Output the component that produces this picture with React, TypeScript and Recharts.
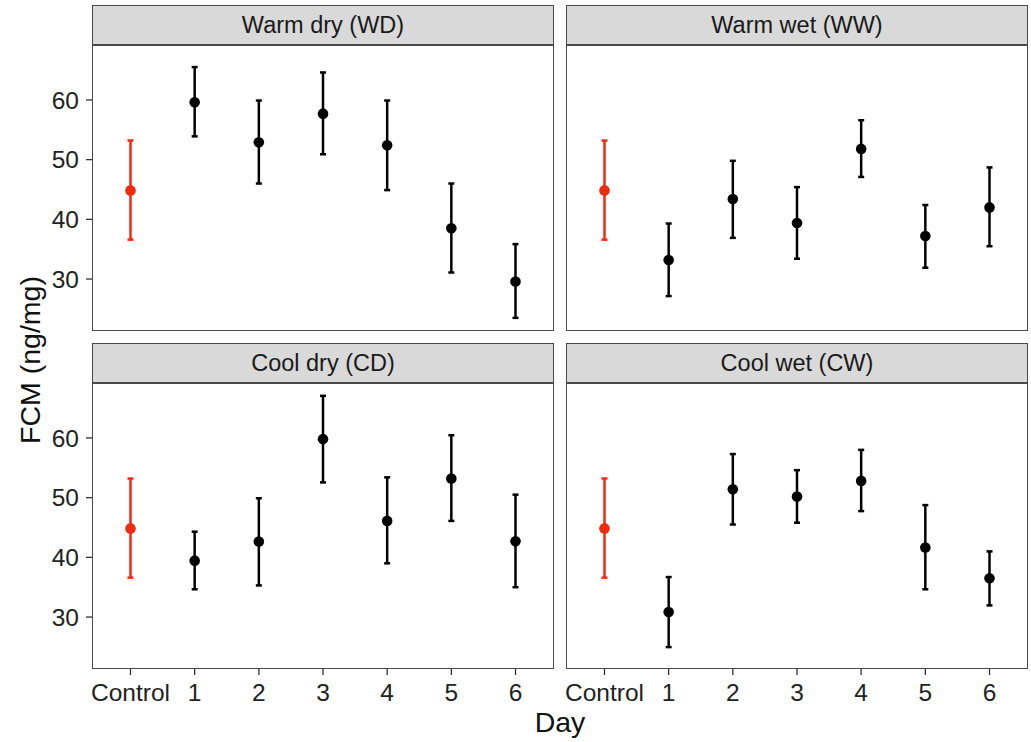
import React from 'react';
import { ScatterChart, Scatter, XAxis, YAxis, ErrorBar } from 'recharts';

const dayLabels = ['Control', '1', '2', '3', '4', '5', '6'];
const dayPositions = [0, 1, 2, 3, 4, 5, 6];
const yTicks = [30, 40, 50, 60];
const yDomain = [21.3, 69.2];

const panelTitles = ['Warm dry (WD)', 'Warm wet (WW)', 'Cool dry (CD)', 'Cool wet (CW)'];

const controlMean = 44.85;
const controlLow = 36.6;
const controlHigh = 53.2;

const wdMean = [59.6, 52.9, 57.7, 52.4, 38.5, 29.6];
const wdLow = [53.9, 46.0, 50.9, 44.9, 31.1, 23.5];
const wdHigh = [65.5, 59.9, 64.6, 59.9, 46.0, 35.85];

const wwMean = [33.2, 43.4, 39.4, 51.8, 37.2, 42.0];
const wwLow = [27.15, 36.9, 33.4, 47.1, 31.9, 35.5];
const wwHigh = [39.3, 49.8, 45.4, 56.6, 42.4, 48.7];

const cdMean = [39.45, 42.65, 59.8, 46.1, 53.2, 42.7];
const cdLow = [34.65, 35.3, 52.55, 39.0, 46.1, 35.0];
const cdHigh = [44.3, 49.9, 67.05, 53.4, 60.45, 50.5];

const cwMean = [30.85, 51.4, 50.2, 52.8, 41.65, 36.5];
const cwLow = [24.97, 45.5, 45.8, 47.75, 34.65, 31.95];
const cwHigh = [36.7, 57.3, 54.6, 58.0, 48.75, 41.0];

const FONT = '"Liberation Sans", Arial, Helvetica, sans-serif';
const RED = '#EE2A0F';

function makeDays(mean: number[], low: number[], high: number[]) {
  return mean.map((m, i) => ({
    x: dayPositions[i + 1],
    y: m,
    err: [m - low[i], high[i] - m],
  }));
}

const controlData = [
  { x: dayPositions[0], y: controlMean, err: [controlMean - controlLow, controlHigh - controlMean] },
];

const panelData = [
  makeDays(wdMean, wdLow, wdHigh),
  makeDays(wwMean, wwLow, wwHigh),
  makeDays(cdMean, cdLow, cdHigh),
  makeDays(cwMean, cwLow, cwHigh),
];

const PLOT_W = 462;
const PLOT_H = 286;
const plotLefts = [92, 566];
const plotTops = [45, 383];
const stripTops = [5, 343];
const STRIP_H = 40;

const dot = (fill: string) => (props: any) => (
  <circle cx={props.cx} cy={props.cy} r={5.3} fill={fill} />
);

function Panel({ idx }: { idx: number }) {
  const col = idx % 2;
  const row = Math.floor(idx / 2);
  const showY = col === 0;
  const showX = row === 1;
  const yAxisW = 60;
  const ml = showY ? 0 : 30;
  const mr = 10;
  const mt = 5;
  const xAxisH = 70;
  const plotLeft = plotLefts[col];
  const plotTop = plotTops[row];
  const chartLeft = plotLeft - (showY ? yAxisW : 0) - ml;
  const chartTop = plotTop - mt;
  const chartW = PLOT_W + (showY ? yAxisW : 0) + ml + mr;
  const chartH = PLOT_H + mt + (showX ? xAxisH : 10);
  return (
    <>
      <div style={{ position: 'absolute', left: chartLeft, top: chartTop }}>
        <ScatterChart
          width={chartW}
          height={chartH}
          margin={{ top: mt, right: mr, bottom: showX ? 0 : 10, left: ml }}
        >
          <XAxis
            type="number"
            dataKey="x"
            domain={[-0.6, 6.6]}
            ticks={dayPositions}
            tickFormatter={(v: number) => dayLabels[v]}
            interval={0}
            hide={!showX}
            height={xAxisH}
            axisLine={false}
            tickSize={6}
            tickMargin={9}
            tickLine={{ stroke: '#333', strokeWidth: 1.3 }}
            tick={{ fill: '#222', fontSize: 24.5, fontFamily: FONT }}
          />
          <YAxis
            type="number"
            dataKey="y"
            domain={yDomain}
            ticks={yTicks}
            interval={0}
            hide={!showY}
            width={yAxisW}
            axisLine={false}
            tickSize={6}
            tickMargin={7}
            tickLine={{ stroke: '#333', strokeWidth: 1.3 }}
            tick={{ fill: '#222', fontSize: 24.5, fontFamily: FONT }}
          />
          <Scatter data={controlData} isAnimationActive={false} shape={dot(RED)}>
            <ErrorBar dataKey="err" direction="y" width={3} stroke={RED} strokeWidth={2.5} />
          </Scatter>
          <Scatter data={panelData[idx]} isAnimationActive={false} shape={dot('#000')}>
            <ErrorBar dataKey="err" direction="y" width={3} stroke="#000" strokeWidth={2.5} />
          </Scatter>
        </ScatterChart>
      </div>
      <div
        style={{
          position: 'absolute',
          left: plotLeft,
          top: plotTop,
          width: PLOT_W,
          height: PLOT_H,
          boxSizing: 'border-box',
          border: '1.3px solid #4a4a4a',
          pointerEvents: 'none',
        }}
      />
      <div
        style={{
          position: 'absolute',
          left: plotLeft,
          top: stripTops[row],
          width: PLOT_W,
          height: STRIP_H,
          boxSizing: 'border-box',
          border: '1.3px solid #4a4a4a',
          background: '#D9D9D9',
          display: 'flex',
          alignItems: 'center',
          justifyContent: 'center',
          fontFamily: FONT,
          fontSize: 23.5,
          color: '#1A1A1A',
        }}
      >
        {panelTitles[idx]}
      </div>
    </>
  );
}

export default function App() {
  return (
    <div
      style={{
        position: 'absolute',
        left: 0,
        top: 0,
        width: 1031,
        height: 742,
        background: '#fff',
        overflow: 'hidden',
      }}
    >
      {[0, 1, 2, 3].map((i) => (
        <Panel key={i} idx={i} />
      ))}
      <svg
        width={1031}
        height={742}
        style={{ position: 'absolute', left: 0, top: 0, pointerEvents: 'none' }}
      >
        <text
          x={30}
          y={360}
          transform="rotate(-90, 30, 360)"
          textAnchor="middle"
          dominantBaseline="central"
          fontFamily={FONT}
          fontSize={28.5}
          fill="#111"
        >
          FCM (ng/mg)
        </text>
        <text x={560} y={732} textAnchor="middle" fontFamily={FONT} fontSize={28.5} fill="#111">
          Day
        </text>
      </svg>
    </div>
  );
}
